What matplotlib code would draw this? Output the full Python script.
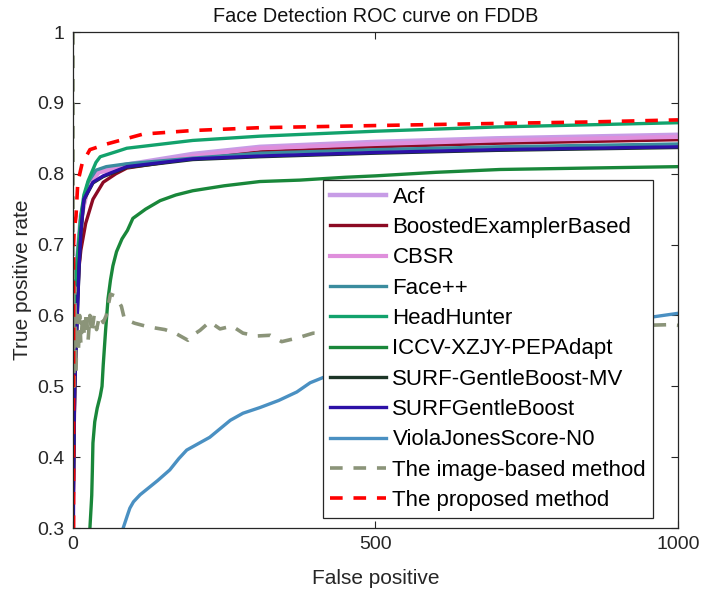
import matplotlib
matplotlib.use("Agg")
import matplotlib.pyplot as plt

plt.rcParams['font.family'] = ['Liberation Sans', 'DejaVu Sans']

# ---------------- data (false positives, true positive rate) ----------------
acf_x = [0, 2, 5, 13, 25, 43, 89, 198, 309, 500, 700, 1000]
acf_y = [0.30, 0.56, 0.66, 0.74, 0.785, 0.805, 0.813, 0.828, 0.838, 0.845, 0.850, 0.855]

boosted_x = [0, 3, 6, 10, 13, 21, 33, 50, 71, 89, 198, 309, 500, 700, 1000]
boosted_y = [0.30, 0.50, 0.60, 0.668, 0.692, 0.73, 0.764, 0.788, 0.800, 0.808, 0.822, 0.831, 0.838, 0.843, 0.848]

cbsr_x = [0, 2, 5, 13, 25, 43, 89, 198, 309, 500, 700, 1000]
cbsr_y = [0.30, 0.55, 0.655, 0.735, 0.782, 0.802, 0.810, 0.825, 0.836, 0.842, 0.847, 0.852]

facepp_x = [0, 2, 5, 13, 25, 38, 55, 89, 198, 309, 500, 700, 1000]
facepp_y = [0.30, 0.55, 0.65, 0.74, 0.788, 0.805, 0.810, 0.814, 0.822, 0.829, 0.834, 0.838, 0.842]

headhunter_x = [0, 2, 5, 13, 18, 25, 38, 45, 71, 89, 198, 309, 500, 700, 1000]
headhunter_y = [0.30, 0.55, 0.66, 0.74, 0.77, 0.79, 0.816, 0.824, 0.831, 0.836, 0.847, 0.853, 0.860, 0.866, 0.872]

iccv_x = [27, 28, 30, 31, 32, 33, 36, 40, 45, 48, 50, 54, 58, 62, 66, 72, 81, 90, 99, 120, 144, 170,
          198, 250, 309, 375, 450, 500, 600, 706, 850, 1000]
iccv_y = [0.29, 0.30, 0.33, 0.346, 0.38, 0.42, 0.45, 0.469, 0.486, 0.50, 0.53, 0.58, 0.624, 0.65, 0.67,
          0.69, 0.708, 0.72, 0.737, 0.75, 0.762, 0.77, 0.776, 0.783, 0.789, 0.791, 0.795, 0.797, 0.802,
          0.806, 0.808, 0.810]

surfmv_x = [0, 2, 3, 5, 10, 13, 18, 33, 50, 89, 198, 309, 500, 700, 1000]
surfmv_y = [0.30, 0.45, 0.50, 0.55, 0.667, 0.715, 0.763, 0.787, 0.796, 0.809, 0.820, 0.824, 0.829, 0.833, 0.837]

surf_x = [0, 2, 3, 5, 10, 13, 18, 33, 50, 89, 198, 309, 500, 700, 1000]
surf_y = [0.30, 0.45, 0.50, 0.55, 0.668, 0.716, 0.764, 0.788, 0.797, 0.810, 0.821, 0.825, 0.830, 0.834, 0.838]

viola_x = [83, 90, 94, 100, 111, 127, 140, 160, 175, 188, 226, 260, 281, 309, 340, 370, 392, 450, 550,
           650, 750, 850, 959, 1000]
viola_y = [0.30, 0.318, 0.328, 0.337, 0.347, 0.358, 0.367, 0.382, 0.398, 0.41, 0.428, 0.452, 0.462, 0.47,
           0.48, 0.492, 0.505, 0.525, 0.55, 0.565, 0.578, 0.588, 0.598, 0.603]

image_x = [0, 0, 2, 3, 5, 7, 9, 11, 13, 16, 19, 22, 25, 28, 31, 35, 39, 44, 50, 55, 62, 68, 75, 80, 85,
           102, 124, 152, 169, 190, 203, 210, 226, 243, 263, 281, 304, 326, 345, 370, 397, 500, 600,
           700, 800, 900, 987, 1000]
image_y = [1.0, 0.68, 0.50, 0.64, 0.52, 0.60, 0.55, 0.60, 0.56, 0.60, 0.57, 0.605, 0.565, 0.60, 0.575,
           0.60, 0.58, 0.60, 0.59, 0.60, 0.63, 0.628, 0.62, 0.613, 0.595, 0.589, 0.584, 0.58, 0.575,
           0.565, 0.575, 0.579, 0.591, 0.581, 0.585, 0.575, 0.571, 0.572, 0.563, 0.568, 0.575, 0.57,
           0.575, 0.58, 0.578, 0.585, 0.587, 0.586]

proposed_x = [1, 1, 2, 5, 8, 15, 28, 56, 116, 198, 309, 500, 700, 850, 1000]
proposed_y = [0.30, 0.70, 0.72, 0.74, 0.788, 0.814, 0.834, 0.842, 0.856, 0.861, 0.865, 0.868, 0.871, 0.873, 0.876]

labels = ["Acf", "BoostedExamplerBased", "CBSR", "Face++", "HeadHunter", "ICCV-XZJY-PEPAdapt",
          "SURF-GentleBoost-MV", "SURFGentleBoost", "ViolaJonesScore-N0",
          "The image-based method", "The proposed method"]

x_ticks = [0, 500, 1000]
y_ticks = [0.3, 0.4, 0.5, 0.6, 0.7, 0.8, 0.9, 1.0]
y_ticklabels = ["0.3", "0.4", "0.5", "0.6", "0.7", "0.8", "0.9", "1"]

# ---------------- plot ----------------
fig = plt.figure(figsize=(7.01, 5.92), dpi=100)
ax = fig.add_axes([0.1041, 0.1081, 0.8631, 0.8378])

series = [
    (acf_x, acf_y, "#c79ce6", "-", 3.2),
    (boosted_x, boosted_y, "#8c0a24", "-", 2.4),
    (cbsr_x, cbsr_y, "#df8fdc", "-", 3.0),
    (facepp_x, facepp_y, "#3a8c9e", "-", 2.4),
    (headhunter_x, headhunter_y, "#12a26c", "-", 2.4),
    (iccv_x, iccv_y, "#19873a", "-", 2.4),
    (surfmv_x, surfmv_y, "#1c3526", "-", 2.4),
    (surf_x, surf_y, "#2c10a6", "-", 2.4),
    (viola_x, viola_y, "#4a90c2", "-", 2.4),
    (image_x, image_y, "#8b9479", "--", 2.6),
    (proposed_x, proposed_y, "#ff0000", "--", 2.6),
]
for (xs, ys, c, ls, lw), lab in zip(series, labels):
    kw = dict(dashes=(3.5, 3.0)) if ls == "--" else {}
    ax.plot(xs, ys, color=c, linestyle=ls, linewidth=lw, label=lab, **kw)

ax.set_xlim(0, 1000)
ax.set_ylim(0.3, 1.0)
ax.set_xticks(x_ticks)
ax.set_xticklabels([str(v) for v in x_ticks])
ax.set_yticks(y_ticks)
ax.set_yticklabels(y_ticklabels)
ax.tick_params(direction="in", length=5, width=0.8, top=True, right=True,
               labelsize=14, colors="#262626", pad=6)
for s in ax.spines.values():
    s.set_color("#262626")
    s.set_linewidth(0.9)

ax.set_title("Face Detection ROC curve on FDDB", fontsize=14.3, color="#111111", pad=7)
ax.set_xlabel("False positive", fontsize=15, color="#262626", labelpad=11)
ax.set_ylabel("True positive rate", fontsize=15, color="#262626", labelpad=4)

leg = ax.legend(loc="lower right", bbox_to_anchor=(0.959, 0.02), fontsize=16,
                handlelength=2.5, handletextpad=0.3, labelspacing=0.42, borderpad=0.32,
                borderaxespad=0.0, fancybox=False, framealpha=1.0, edgecolor="#262626")
leg.get_frame().set_linewidth(0.9)

fig.savefig("out.png", dpi=100)
